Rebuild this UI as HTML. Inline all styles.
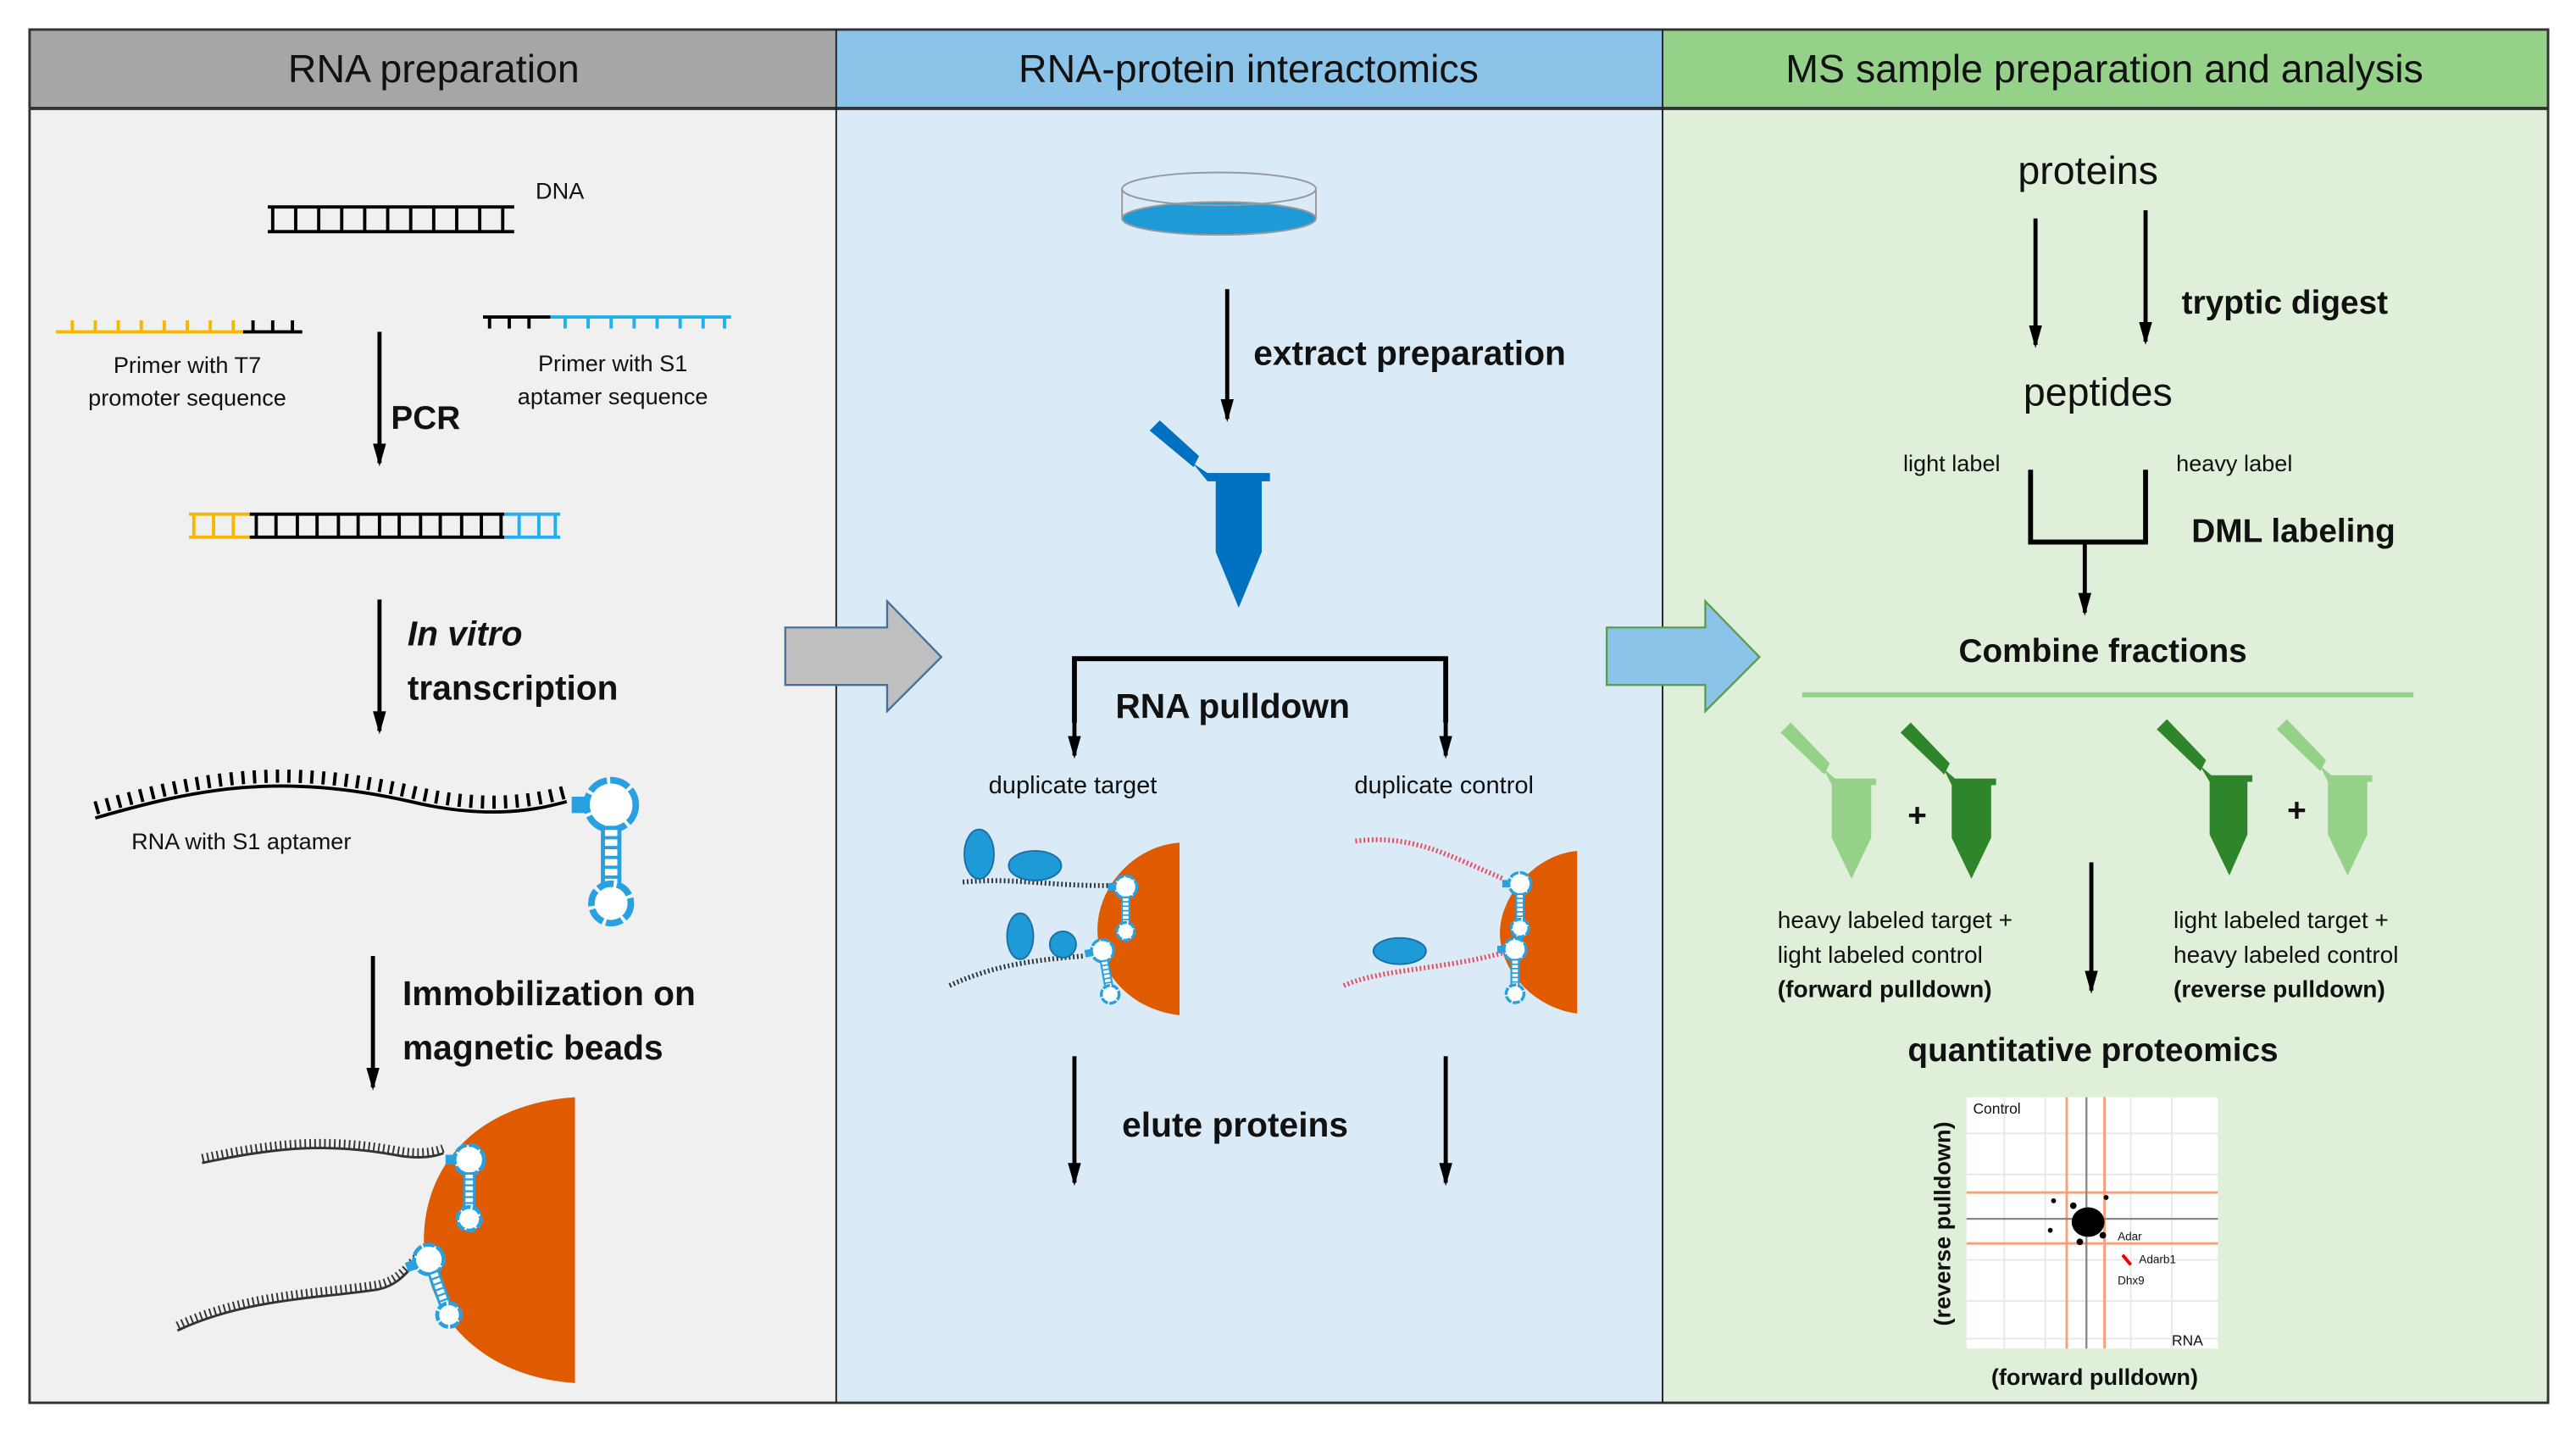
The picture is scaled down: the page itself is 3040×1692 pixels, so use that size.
<!DOCTYPE html>
<html><head><meta charset="utf-8"><style>
html,body{margin:0;padding:0;background:#fff;}
svg{display:block;}
text{font-family:"Liberation Sans",sans-serif;fill:#111;}
.b{font-weight:bold;}
</style></head><body>
<svg width="3040" height="1692" viewBox="0 0 1568 873" preserveAspectRatio="none" xmlns="http://www.w3.org/2000/svg">
<defs>
<marker id="ah" markerWidth="16" markerHeight="8" refX="12" refY="4" orient="auto" markerUnits="userSpaceOnUse">
<path d="M0,0 L14,4 L0,8 Z" fill="#000"/></marker>
<g id="apt">
<rect x="-8" y="-5" width="8" height="10" fill="#29a0e0"/>
<circle cx="16" cy="0" r="15" fill="#fff" stroke="#29a0e0" stroke-width="4" stroke-dasharray="12 2"/>
<rect x="11" y="14" width="10" height="36" fill="#fff" stroke="#29a0e0" stroke-width="2.5"/>
<path d="M11,20h10M11,26h10M11,32h10M11,38h10M11,44h10" stroke="#29a0e0" stroke-width="2"/>
<circle cx="16" cy="60" r="12" fill="#fff" stroke="#29a0e0" stroke-width="4" stroke-dasharray="10 2"/>
</g>
</defs>
<!-- backgrounds -->
<rect x="18" y="66" width="491" height="788" fill="#f0f0f0"/>
<rect x="509" y="66" width="503" height="788" fill="#daeaf7"/>
<rect x="1012" y="66" width="539" height="788" fill="#dfefda"/>
<rect x="18" y="18" width="491" height="48" fill="#a6a6a6"/>
<rect x="509" y="18" width="503" height="48" fill="#8cc3e8"/>
<rect x="1012" y="18" width="539" height="48" fill="#96d18a"/>
<rect x="18" y="18" width="1533" height="836" fill="none" stroke="#333" stroke-width="1.5"/>
<line x1="18" y1="66" x2="1551" y2="66" stroke="#333" stroke-width="2"/>
<line x1="509" y1="18" x2="509" y2="854" stroke="#222" stroke-width="1"/>
<line x1="1012" y1="18" x2="1012" y2="854" stroke="#222" stroke-width="1"/>
<text x="264" y="50" font-size="24" text-anchor="middle">RNA preparation</text>
<text x="760" y="50" font-size="24" text-anchor="middle">RNA-protein interactomics</text>
<text x="1281" y="50" font-size="24" text-anchor="middle">MS sample preparation and analysis</text>

<!-- LEFT PANEL -->
<g stroke="#000" stroke-width="2" fill="none">
<path d="M163,126H313M163,141H313"/>
<path d="M166,126v15M180,126v15M194,126v15M208,126v15M222,126v15M236,126v15M250,126v15M264,126v15M278,126v15M292,126v15M306,126v15"/>
</g>
<text x="326" y="121" font-size="14">DNA</text>
<path d="M34,202H148" stroke="#f5b800" stroke-width="2"/>
<path d="M44,202v-7M58,202v-7M72,202v-7M86,202v-7M100,202v-7M114,202v-7M128,202v-7M142,202v-7" stroke="#f5b800" stroke-width="2"/>
<path d="M148,202H184M154,202v-7M166,202v-7M178,202v-7" stroke="#000" stroke-width="2"/>
<path d="M294,193H335M298,193v7M310,193v7M322,193v7" stroke="#000" stroke-width="2"/>
<path d="M335,193H445M344,193v7M358,193v7M372,193v7M386,193v7M400,193v7M414,193v7M428,193v7M441,193v7" stroke="#1eb0ef" stroke-width="2"/>
<text x="114" y="227" font-size="14" text-anchor="middle">Primer with T7</text>
<text x="114" y="247" font-size="14" text-anchor="middle">promoter sequence</text>
<text x="373" y="226" font-size="14" text-anchor="middle">Primer with S1</text>
<text x="373" y="246" font-size="14" text-anchor="middle">aptamer sequence</text>
<line x1="231" y1="202" x2="231" y2="282" stroke="#000" stroke-width="2.5" marker-end="url(#ah)"/>
<text x="238" y="261" font-size="20" class="b">PCR</text>
<g fill="none" stroke-width="2">
<path d="M115,313H152M115,327H152M118,313v14M130,313v14M142,313v14" stroke="#f5b800"/>
<path d="M152,313H307M152,327H307M156,313v14M168,313v14M181,313v14M193,313v14M206,313v14M218,313v14M231,313v14M243,313v14M256,313v14M268,313v14M281,313v14M293,313v14M305,313v14" stroke="#000"/>
<path d="M307,313H341M307,327H341M316,313v14M328,313v14M338,313v14" stroke="#1eb0ef"/>
</g>
<line x1="231" y1="365" x2="231" y2="445" stroke="#000" stroke-width="2.5" marker-end="url(#ah)"/>
<text x="248" y="393" font-size="21" class="b" font-style="italic">In vitro</text>
<text x="248" y="426" font-size="21" class="b">transcription</text>
<path d="M58,498 C120,480 170,470 250,488 C300,500 330,492 345,488" fill="none" stroke="#000" stroke-width="2"/>
<path d="M58,494 C120,476 170,466 250,484 C300,496 330,488 345,484" fill="none" stroke="#000" stroke-width="8" stroke-dasharray="2 5" transform="translate(0,-2)"/>
<use href="#apt" x="356" y="490"/>
<text x="80" y="517" font-size="14">RNA with S1 aptamer</text>
<line x1="227" y1="582" x2="227" y2="662" stroke="#000" stroke-width="2.5" marker-end="url(#ah)"/>
<text x="245" y="612" font-size="21" class="b">Immobilization  on</text>
<text x="245" y="645" font-size="21" class="b">magnetic beads</text>
<path d="M350,668 C290,672 258,710 258,755 C258,800 292,838 350,842 Z" fill="#e05a00"/>
<path d="M123,708 C170,698 200,696 240,703 C255,706 265,704 270,702" fill="none" stroke="#333" stroke-width="1.5"/>
<path d="M123,705 C170,695 200,693 240,700 C255,703 265,701 270,699" fill="none" stroke="#333" stroke-width="5" stroke-dasharray="1 2"/>
<path d="M108,810 C150,790 200,790 230,785 C245,782 250,770 255,768" fill="none" stroke="#333" stroke-width="1.5"/>
<path d="M108,807 C150,787 200,787 230,782 C245,779 250,767 255,765" fill="none" stroke="#333" stroke-width="5" stroke-dasharray="1 2"/>
<use href="#apt" transform="translate(276,706) scale(0.6)"/>
<use href="#apt" transform="translate(252,770) rotate(-20) scale(0.6)"/>

<!-- arrow gray -->
<path d="M478,382H540V366L573,400L540,433V417H478Z" fill="#bfbfbf" stroke="#41719c" stroke-width="1.2"/>

<!-- MIDDLE PANEL -->
<ellipse cx="742" cy="133" rx="59" ry="10" fill="#1e9ad6"/>
<path d="M683,115V133M801,115V133" stroke="#999" stroke-width="1"/>
<ellipse cx="742" cy="115" rx="59" ry="10" fill="none" stroke="#999" stroke-width="1"/>
<ellipse cx="742" cy="133" rx="59" ry="10" fill="none" stroke="#999" stroke-width="1"/>
<line x1="747" y1="176" x2="747" y2="255" stroke="#000" stroke-width="2.5" marker-end="url(#ah)"/>
<text x="763" y="222" font-size="21" class="b">extract preparation</text>
<path d="M702,262 L706,258 L728,278 L726,282 Z" fill="#0070c0" stroke="#0070c0" stroke-width="3"/>
<path d="M726,282 L735,288 H773 V293 H768 V336 L754,370 L740,336 V293 H735 Z" fill="#0070c0"/>
<path d="M654,440V401H880V440" fill="none" stroke="#000" stroke-width="3"/>
<line x1="654" y1="438" x2="654" y2="460" stroke="#000" stroke-width="2.5" marker-end="url(#ah)"/>
<line x1="880" y1="438" x2="880" y2="460" stroke="#000" stroke-width="2.5" marker-end="url(#ah)"/>
<text x="679" y="437" font-size="21" class="b">RNA pulldown</text>
<text x="653" y="483" font-size="15" text-anchor="middle">duplicate target</text>
<text x="879" y="483" font-size="15" text-anchor="middle">duplicate control</text>
<!-- target beads -->
<path d="M718,513 C690,515 668,540 668,566 C668,594 690,615 718,618 Z" fill="#e05a00"/>
<path d="M586,537 C620,534 640,540 680,539" fill="none" stroke="#333" stroke-width="3" stroke-dasharray="1 1.5"/>
<path d="M578,600 C600,590 620,585 660,582" fill="none" stroke="#333" stroke-width="3" stroke-dasharray="1 1.5"/>
<ellipse cx="596" cy="520" rx="9" ry="15" fill="#1e9ad6" stroke="#1b6fa8"/>
<ellipse cx="630" cy="527" rx="16" ry="9" fill="#1e9ad6" stroke="#1b6fa8"/>
<ellipse cx="621" cy="570" rx="8" ry="14" fill="#1e9ad6" stroke="#1b6fa8"/>
<circle cx="647" cy="575" r="8" fill="#1e9ad6" stroke="#1b6fa8"/>
<use href="#apt" transform="translate(678,540) scale(0.45)"/>
<use href="#apt" transform="translate(664,580) rotate(-10) scale(0.45)"/>
<!-- control beads -->
<path d="M960,518 C935,520 913,545 913,568 C913,592 935,614 960,617 Z" fill="#e05a00"/>
<path d="M825,512 C860,508 880,520 915,535" fill="none" stroke="#e84a5f" stroke-width="3" stroke-dasharray="1 1.5"/>
<path d="M818,600 C840,590 880,590 915,580" fill="none" stroke="#e84a5f" stroke-width="3" stroke-dasharray="1 1.5"/>
<ellipse cx="852" cy="579" rx="16" ry="8" fill="#1e9ad6" stroke="#1b6fa8"/>
<use href="#apt" transform="translate(918,538) scale(0.45)"/>
<use href="#apt" transform="translate(915,578) scale(0.45)"/>
<line x1="654" y1="643" x2="654" y2="720" stroke="#000" stroke-width="2.5" marker-end="url(#ah)"/>
<line x1="880" y1="643" x2="880" y2="720" stroke="#000" stroke-width="2.5" marker-end="url(#ah)"/>
<text x="683" y="692" font-size="21" class="b">elute proteins</text>

<!-- arrow blue -->
<path d="M978,382H1038V366L1071,400L1038,433V417H978Z" fill="#8cc3e8" stroke="#5a9e48" stroke-width="1.2"/>

<!-- RIGHT PANEL -->
<text x="1271" y="112" font-size="24" text-anchor="middle">proteins</text>
<line x1="1239" y1="133" x2="1239" y2="210" stroke="#000" stroke-width="2.5" marker-end="url(#ah)"/>
<line x1="1306" y1="128" x2="1306" y2="208" stroke="#000" stroke-width="2.5" marker-end="url(#ah)"/>
<text x="1328" y="191" font-size="20" class="b">tryptic digest</text>
<text x="1277" y="247" font-size="24" text-anchor="middle">peptides</text>
<text x="1188" y="287" font-size="14" text-anchor="middle">light label</text>
<text x="1360" y="287" font-size="14" text-anchor="middle">heavy label</text>
<path d="M1236,286V330H1306V286" fill="none" stroke="#000" stroke-width="3"/>
<line x1="1269" y1="330" x2="1269" y2="373" stroke="#000" stroke-width="2.5" marker-end="url(#ah)"/>
<text x="1334" y="330" font-size="20" class="b">DML labeling</text>
<text x="1280" y="403" font-size="20" class="b" text-anchor="middle">Combine fractions</text>
<line x1="1097" y1="423" x2="1469" y2="423" stroke="#96d18a" stroke-width="3"/>
<!-- green tubes -->
<g id="tl">
<path d="M1086,446 L1090,442 L1112,465 L1110,469 Z" fill="#96d18a" stroke="#96d18a" stroke-width="3"/>
<path d="M1110,468 L1117,474 H1142 V478 H1139 V510 L1127,535 L1115,510 V478 Z" fill="#96d18a"/>
</g>
<g fill="#2f852a" stroke="#2f852a">
<path d="M1159,446 L1163,442 L1185,465 L1183,469 Z" stroke-width="3"/>
<path d="M1183,468 L1190,474 H1215 V478 H1212 V510 L1200,535 L1188,510 V478 Z" stroke="none"/>
<path d="M1315,444 L1319,440 L1341,463 L1339,467 Z" stroke-width="3"/>
<path d="M1339,466 L1346,472 H1371 V476 H1368 V508 L1357,533 L1345,508 V476 Z" stroke="none"/>
</g>
<use href="#tl" x="302" y="-2"/>
<text x="1167" y="503" font-size="20" class="b" text-anchor="middle">+</text>
<text x="1398" y="500" font-size="20" class="b" text-anchor="middle">+</text>
<line x1="1273" y1="525" x2="1273" y2="603" stroke="#000" stroke-width="2.5" marker-end="url(#ah)"/>
<text x="1082" y="565" font-size="14.5">heavy labeled target +</text>
<text x="1082" y="586" font-size="14.5">light labeled control</text>
<text x="1082" y="607" font-size="14.5" class="b">(forward pulldown)</text>
<text x="1323" y="565" font-size="14.5">light labeled target +</text>
<text x="1323" y="586" font-size="14.5">heavy labeled control</text>
<text x="1323" y="607" font-size="14.5" class="b">(reverse pulldown)</text>
<text x="1274" y="646" font-size="20" class="b" text-anchor="middle">quantitative proteomics</text>
<!-- plot -->
<rect x="1197" y="668" width="153" height="153" fill="#fff"/>
<g stroke="#e8e8e8" stroke-width="1">
<path d="M1197,690H1350M1197,715H1350M1197,767H1350M1197,792H1350M1197,815H1350M1220,668V821M1245,668V821M1297,668V821M1322,668V821"/>
</g>
<path d="M1258,668V821M1281,668V821M1197,726H1350M1197,757H1350" stroke="#f4a07a" stroke-width="1.5"/>
<path d="M1270,668V821M1197,742H1350" stroke="#888" stroke-width="1.2"/>
<ellipse cx="1271" cy="744" rx="10" ry="9" fill="#000"/>
<circle cx="1262" cy="734" r="2" fill="#000"/><circle cx="1280" cy="752" r="2" fill="#000"/>
<circle cx="1248" cy="749" r="1.5" fill="#000"/><circle cx="1250" cy="731" r="1.5" fill="#000"/>
<circle cx="1266" cy="756" r="2" fill="#000"/><circle cx="1282" cy="729" r="1.5" fill="#000"/>
<path d="M1292,764 L1297,770" stroke="#e00" stroke-width="2"/>
<text x="1289" y="755" font-size="7">Adar</text>
<text x="1302" y="769" font-size="7">Adarb1</text>
<text x="1289" y="782" font-size="7">Dhx9</text>
<text x="1201" y="678" font-size="9" fill="#444">Control</text>
<text x="1322" y="819" font-size="9" fill="#444">RNA</text>
<text x="1187" y="745" font-size="14" class="b" text-anchor="middle" transform="rotate(-90 1187 745)">(reverse pulldown)</text>
<text x="1275" y="843" font-size="14" class="b" text-anchor="middle">(forward pulldown)</text>
</svg>
</body></html>
